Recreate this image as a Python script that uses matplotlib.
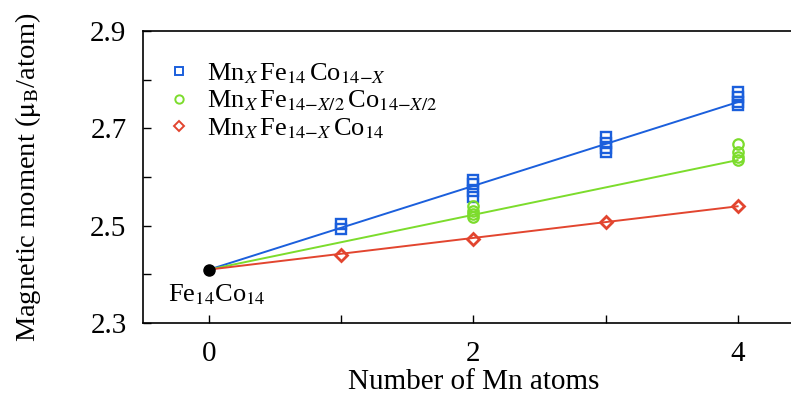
import numpy as np
import matplotlib
matplotlib.use("Agg")
import matplotlib.pyplot as plt
from matplotlib.ticker import FixedLocator, FormatStrFormatter

plt.rcParams["font.family"] = ["Liberation Serif", "DejaVu Serif"]
plt.rcParams["mathtext.fontset"] = "stix"

# Reference compound Fe14Co14
x0, m0 = 0, 2.41

# MnX Fe14 Co(14-X)
x_co = [1, 1, 2, 2, 2, 2, 3, 3, 3, 3, 4, 4, 4, 4]
m_co = [2.503, 2.493, 2.595, 2.585, 2.572, 2.560,
        2.682, 2.670, 2.660, 2.651, 2.775, 2.765, 2.755, 2.748]

# MnX Fe(14-X/2) Co(14-X/2)
x_half = [2, 2, 2, 2, 4, 4, 4, 4]
m_half = [2.540, 2.530, 2.524, 2.518, 2.668, 2.652, 2.642, 2.636]

# MnX Fe(14-X) Co14
x_fe = [1, 2, 3, 4]
m_fe = [2.440, 2.472, 2.507, 2.540]

# Linear trends from Fe14Co14: moment reached at X = 4
trend_x_end = 4
trend_m_end = [2.754, 2.635, 2.540]

labels = [r"Mn$_{X}\,$Fe$_{14}\,$Co$_{14\mathrm{-}X}$",
          r"Mn$_{X}\,$Fe$_{14\mathrm{-}X/2}\,$Co$_{14\mathrm{-}X/2}$",
          r"Mn$_{X}\,$Fe$_{14\mathrm{-}X}\,$Co$_{14}$"]
colors = ["#1b5fdc", "#7cdc2c", "#e2452f"]
markers = ["s", "o", "D"]
msizes = [7.5, 7.5, 6.0]
medges = [1.7, 1.6, 2.0]

x_major = [0, 2, 4]
x_minor = [1, 3]
y_major = [2.3, 2.5, 2.7, 2.9]
y_minor = [2.4, 2.6, 2.8]

fig = plt.figure(figsize=(7.91, 3.94), dpi=100)
ax = fig.add_axes([0.181, 0.180, 0.835, 0.741])

for xs, ms, m_end, lab, c, mk, sz, ew in zip([x_co, x_half, x_fe],
                                             [m_co, m_half, m_fe], trend_m_end,
                                             labels, colors, markers, msizes,
                                             medges):
    ax.plot([x0, trend_x_end], [m0, m_end], color=c, lw=1.4, zorder=2)
    ax.plot(xs, ms, ls="none", marker=mk, ms=sz, mfc="none", mec=c,
            mew=ew, zorder=3)
    ax.plot([], [], ls="none", marker=mk, ms=sz * 0.8, mfc="none", mec=c,
            mew=1.4, label=lab)

ax.plot([x0], [m0], "o", color="black", ms=8, zorder=4)
ax.annotate(r"Fe$_{14}$Co$_{14}$", xy=(x0, m0), xytext=(-30, -18),
            textcoords="offset points", fontsize=19, ha="left", va="center")

ax.set_xlim(-0.5, 4.5)
ax.set_ylim(2.3, 2.9)
ax.xaxis.set_major_locator(FixedLocator(x_major))
ax.xaxis.set_minor_locator(FixedLocator(x_minor))
ax.yaxis.set_major_locator(FixedLocator(y_major))
ax.yaxis.set_minor_locator(FixedLocator(y_minor))
ax.yaxis.set_major_formatter(FormatStrFormatter("%.1f"))
ax.tick_params(which="both", direction="in", top=False, right=False,
               labelsize=21, width=1.0, length=6)
ax.tick_params(axis="x", which="major", pad=13)
ax.tick_params(axis="y", which="major", pad=12)
for s in ax.spines.values():
    s.set_linewidth(1.2)
ax.spines["right"].set_visible(False)

ax.set_xlabel("Number of Mn atoms", fontsize=21, labelpad=1)
ax.set_ylabel(r"Magnetic moment ($\mathrm{\mu_B}$/atom)", fontsize=20.5,
              labelpad=34)

ax.legend(loc="upper left", bbox_to_anchor=(0.0, 0.97), frameon=False,
          fontsize=19, handlelength=1.1, handletextpad=0.5,
          labelspacing=0.12, borderaxespad=0.4)

fig.savefig("out.png", dpi=100)
